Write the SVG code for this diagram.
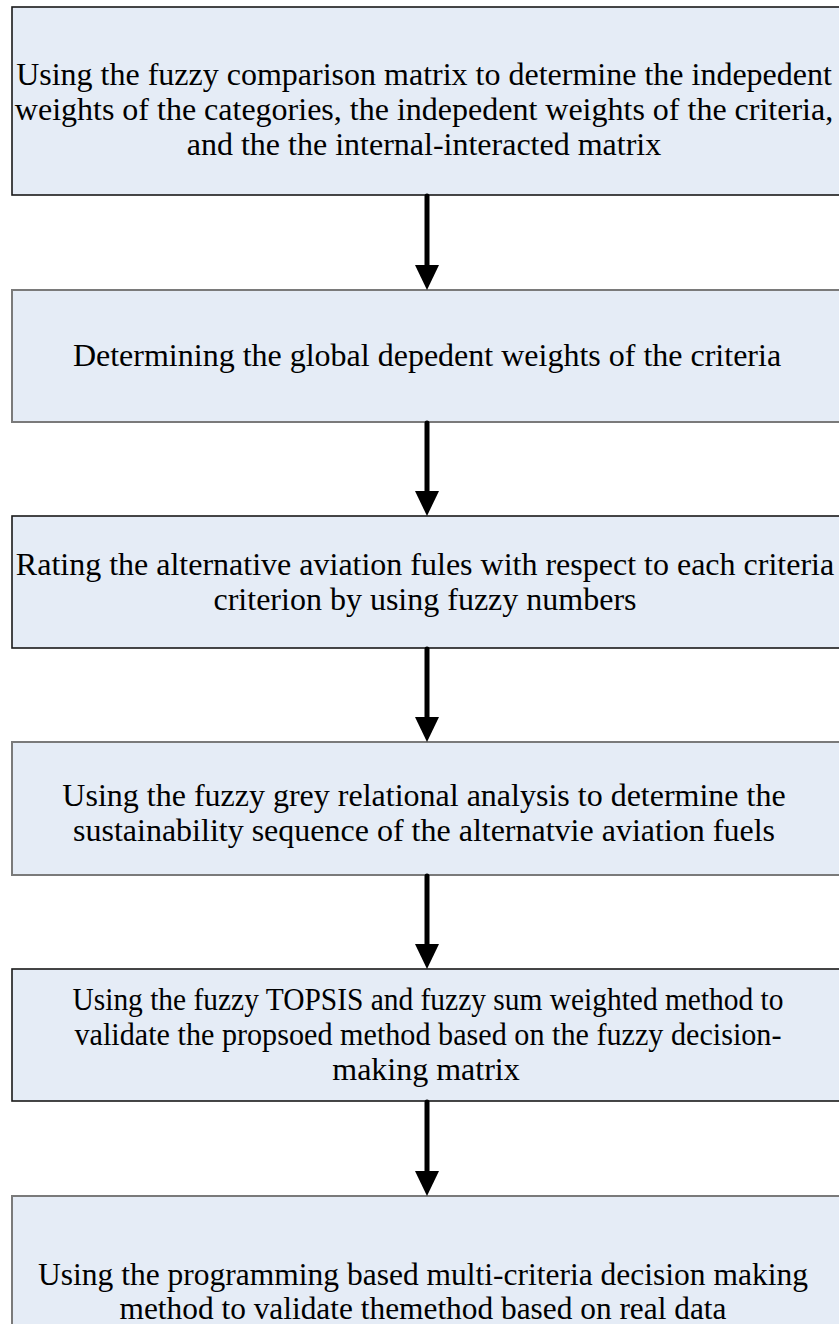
<svg xmlns="http://www.w3.org/2000/svg" width="839" height="1324" viewBox="0 0 839 1324">
<defs>
<style>
.box{fill:#E5ECF6;stroke-width:1.6}
.dk{stroke:#1a1a1a}
.gy{stroke:#7a7a7a;stroke-width:2}
.t{font-family:'Liberation Serif','Times New Roman',serif;font-size:32px;fill:#000;text-anchor:middle}
.sh{stroke:#000;stroke-width:5;stroke-linecap:round;fill:none}
.hd{fill:#000}
</style>
</defs>
<rect width="839" height="1324" fill="#fff"/>
<g id="node1">
<rect class="box dk" x="12" y="7" width="840" height="188"/>
<text class="t" x="424" y="85">Using the fuzzy comparison matrix to determine the indepedent</text>
<text class="t" x="424" y="120">weights of the categories, the indepedent weights of the criteria,</text>
<text class="t" x="424" y="155">and the the internal-interacted matrix</text>
</g>
<g id="node2">
<rect class="box gy" x="12" y="290" width="840" height="132"/>
<text class="t" x="427" y="366">Determining the global depedent weights of the criteria</text>
</g>
<g id="node3">
<rect class="box dk" x="12" y="516" width="840" height="132"/>
<text class="t" x="425" y="575">Rating the alternative aviation fules with respect to each criteria</text>
<text class="t" x="425" y="610">criterion by using fuzzy numbers</text>
</g>
<g id="node4">
<rect class="box gy" x="12" y="742" width="840" height="133"/>
<text class="t" x="424" y="806">Using the fuzzy grey relational analysis to determine the</text>
<text class="t" x="424" y="841">sustainability sequence of the alternatvie aviation fuels</text>
</g>
<g id="node5">
<rect class="box dk" x="12" y="969" width="840" height="132"/>
<text class="t" x="428" y="1010" textLength="711" lengthAdjust="spacingAndGlyphs">Using the fuzzy TOPSIS and fuzzy sum weighted method to</text>
<text class="t" x="428" y="1045" textLength="707" lengthAdjust="spacingAndGlyphs">validate the propsoed method based on the fuzzy decision-</text>
<text class="t" x="426" y="1080">making matrix</text>
</g>
<g id="node6">
<rect class="box gy" x="12" y="1196" width="840" height="188"/>
<text class="t" x="423" y="1285" textLength="770" lengthAdjust="spacingAndGlyphs">Using the programming based multi-criteria decision making</text>
<text class="t" x="423" y="1319" textLength="607" lengthAdjust="spacingAndGlyphs">method to validate themethod based on real data</text>
</g>
<g id="connectors">
<line class="sh" x1="427" y1="196" x2="427" y2="268"/>
<polygon class="hd" points="415,265 439,265 427,290"/>
<line class="sh" x1="427" y1="423" x2="427" y2="494"/>
<polygon class="hd" points="415,491 439,491 427,516"/>
<line class="sh" x1="427" y1="649" x2="427" y2="720"/>
<polygon class="hd" points="415,717 439,717 427,742"/>
<line class="sh" x1="427" y1="876" x2="427" y2="947"/>
<polygon class="hd" points="415,944 439,944 427,969"/>
<line class="sh" x1="427" y1="1102" x2="427" y2="1174"/>
<polygon class="hd" points="415,1171 439,1171 427,1196"/>
</g>
</svg>
